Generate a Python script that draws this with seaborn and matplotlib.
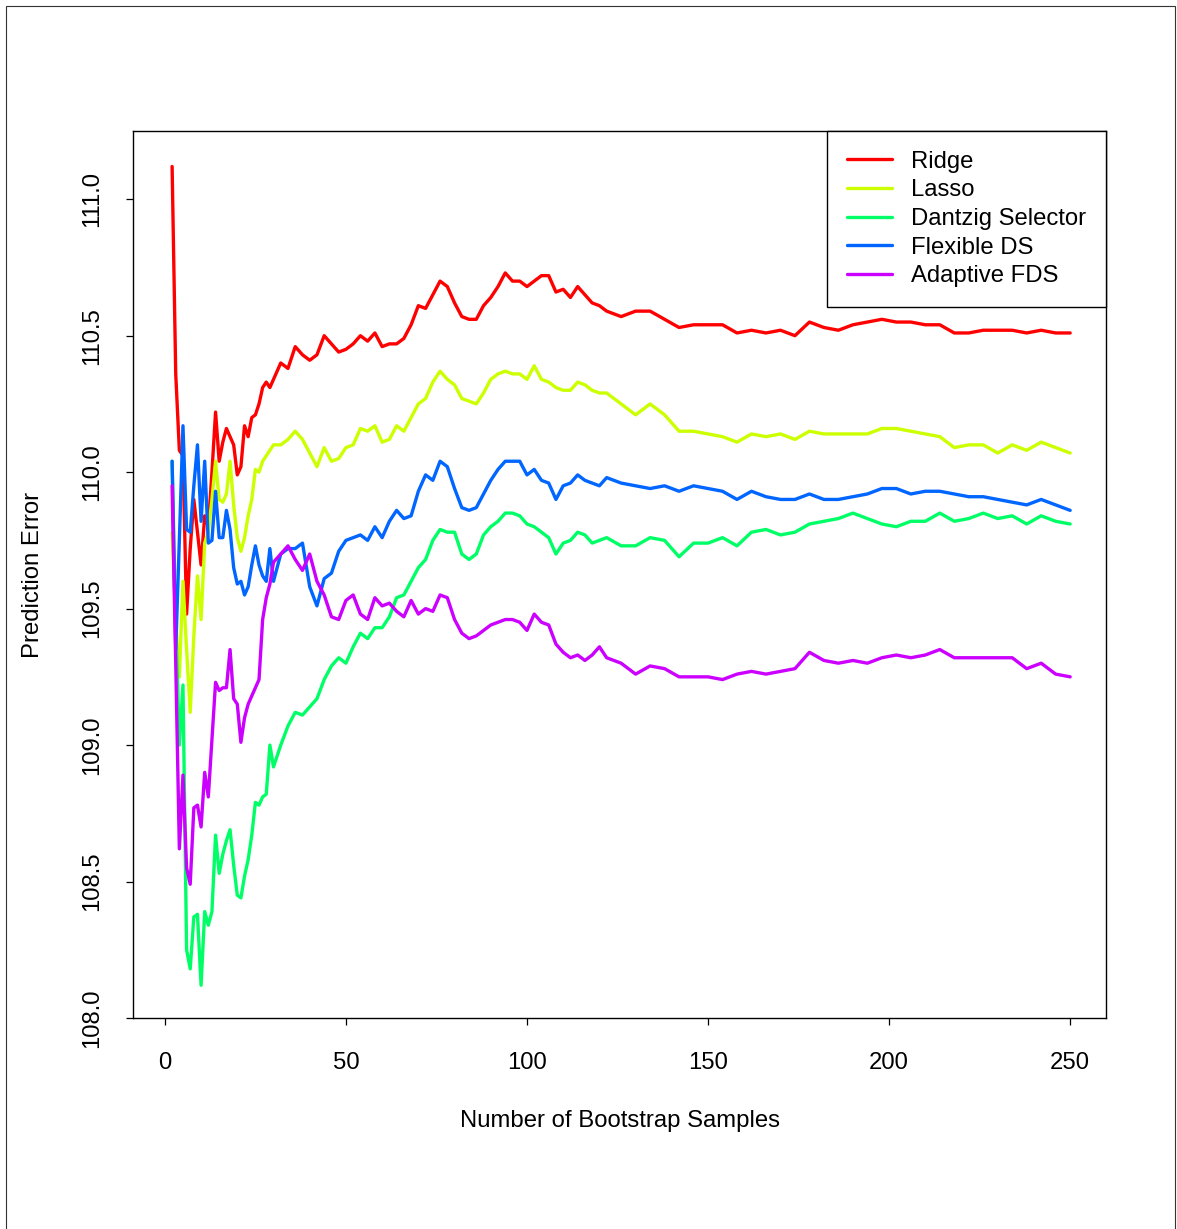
import matplotlib
matplotlib.use("Agg")
import matplotlib.pyplot as plt
import pandas as pd
import seaborn as sns
from matplotlib.patches import Rectangle

n_samples = list(range(2, 31)) + list(range(32, 121, 2)) + list(range(122, 251, 4))

methods = ["Ridge", "Lasso", "Dantzig Selector", "Flexible DS", "Adaptive FDS"]
colors = ["#FF0000", "#CCFF00", "#00FF66", "#0066FF", "#CC00FF"]

# values: x = 2..30, then 32..120 (step 2), then 122..250 (step 4)
ridge = [
    111.12, 110.36, 110.08, 110.06, 109.48, 109.72, 109.90, 109.78, 109.66, 109.84,
    109.80, 110.00, 110.22, 110.04, 110.11, 110.16, 110.13, 110.10, 109.99, 110.02,
    110.17, 110.13, 110.20, 110.21, 110.25, 110.31, 110.33, 110.31, 110.34,
    110.40, 110.38, 110.46, 110.43, 110.41, 110.43, 110.50, 110.47, 110.44, 110.45,
    110.47, 110.50, 110.48, 110.51, 110.46, 110.47, 110.47, 110.49, 110.54, 110.61,
    110.60, 110.65, 110.70, 110.68, 110.62, 110.57, 110.56, 110.56, 110.61, 110.64,
    110.68, 110.73, 110.70, 110.70, 110.68, 110.70, 110.72, 110.72, 110.66, 110.67,
    110.64, 110.68, 110.65, 110.62, 110.61,
    110.59, 110.57, 110.59, 110.59, 110.56, 110.53, 110.54, 110.54, 110.54, 110.51,
    110.52, 110.51, 110.52, 110.50, 110.55, 110.53, 110.52, 110.54, 110.55, 110.56,
    110.55, 110.55, 110.54, 110.54, 110.51, 110.51, 110.52, 110.52, 110.52, 110.51,
    110.52, 110.51, 110.51,
]
lasso = [
    109.78, 109.45, 109.25, 109.60, 109.35, 109.12, 109.40, 109.62, 109.46, 109.74,
    109.78, 109.90, 110.04, 109.90, 109.89, 109.92, 110.04, 109.88, 109.76, 109.71,
    109.76, 109.84, 109.90, 110.01, 110.00, 110.04, 110.06, 110.08, 110.10,
    110.10, 110.12, 110.15, 110.12, 110.07, 110.02, 110.09, 110.04, 110.05, 110.09,
    110.10, 110.16, 110.15, 110.17, 110.11, 110.12, 110.17, 110.15, 110.20, 110.25,
    110.27, 110.33, 110.37, 110.34, 110.32, 110.27, 110.26, 110.25, 110.29, 110.34,
    110.36, 110.37, 110.36, 110.36, 110.34, 110.39, 110.34, 110.33, 110.31, 110.30,
    110.30, 110.33, 110.32, 110.30, 110.29,
    110.29, 110.25, 110.21, 110.25, 110.21, 110.15, 110.15, 110.14, 110.13, 110.11,
    110.14, 110.13, 110.14, 110.12, 110.15, 110.14, 110.14, 110.14, 110.14, 110.16,
    110.16, 110.15, 110.14, 110.13, 110.09, 110.10, 110.10, 110.07, 110.10, 110.08,
    110.11, 110.09, 110.07,
]
dantzig = [
    110.04, 109.45, 109.00, 109.22, 108.25, 108.18, 108.37, 108.38, 108.12, 108.39,
    108.34, 108.39, 108.67, 108.53, 108.60, 108.65, 108.69, 108.56, 108.45, 108.44,
    108.52, 108.58, 108.67, 108.79, 108.78, 108.81, 108.82, 109.00, 108.92,
    109.00, 109.07, 109.12, 109.11, 109.14, 109.17, 109.24, 109.29, 109.32, 109.30,
    109.36, 109.41, 109.39, 109.43, 109.43, 109.47, 109.54, 109.55, 109.60, 109.65,
    109.68, 109.75, 109.79, 109.78, 109.78, 109.70, 109.68, 109.70, 109.77, 109.80,
    109.82, 109.85, 109.85, 109.84, 109.81, 109.80, 109.78, 109.76, 109.70, 109.74,
    109.75, 109.78, 109.77, 109.74, 109.75,
    109.76, 109.73, 109.73, 109.76, 109.75, 109.69, 109.74, 109.74, 109.76, 109.73,
    109.78, 109.79, 109.77, 109.78, 109.81, 109.82, 109.83, 109.85, 109.83, 109.81,
    109.80, 109.82, 109.82, 109.85, 109.82, 109.83, 109.85, 109.83, 109.84, 109.81,
    109.84, 109.82, 109.81,
]
flexible_ds = [
    110.04, 109.35, 109.75, 110.17, 109.79, 109.78, 109.95, 110.10, 109.82, 110.04,
    109.74, 109.75, 109.93, 109.76, 109.76, 109.86, 109.79, 109.65, 109.59, 109.60,
    109.55, 109.58, 109.66, 109.73, 109.66, 109.62, 109.60, 109.72, 109.60,
    109.70, 109.72, 109.72, 109.74, 109.58, 109.51, 109.61, 109.63, 109.71, 109.75,
    109.76, 109.77, 109.75, 109.80, 109.76, 109.82, 109.86, 109.83, 109.84, 109.93,
    109.99, 109.97, 110.04, 110.02, 109.94, 109.87, 109.86, 109.87, 109.92, 109.97,
    110.01, 110.04, 110.04, 110.04, 109.99, 110.01, 109.97, 109.96, 109.90, 109.95,
    109.96, 109.99, 109.97, 109.96, 109.95,
    109.98, 109.96, 109.95, 109.94, 109.95, 109.93, 109.95, 109.94, 109.93, 109.90,
    109.93, 109.91, 109.90, 109.90, 109.92, 109.90, 109.90, 109.91, 109.92, 109.94,
    109.94, 109.92, 109.93, 109.93, 109.92, 109.91, 109.91, 109.90, 109.89, 109.88,
    109.90, 109.88, 109.86,
]
adaptive_fds = [
    109.95, 109.30, 108.62, 108.89, 108.55, 108.49, 108.77, 108.78, 108.70, 108.90,
    108.81, 109.02, 109.23, 109.20, 109.21, 109.21, 109.35, 109.17, 109.15, 109.01,
    109.10, 109.15, 109.18, 109.21, 109.24, 109.46, 109.54, 109.59, 109.67,
    109.70, 109.73, 109.68, 109.64, 109.70, 109.60, 109.55, 109.47, 109.46, 109.53,
    109.55, 109.48, 109.46, 109.54, 109.51, 109.52, 109.49, 109.47, 109.53, 109.48,
    109.50, 109.49, 109.55, 109.54, 109.46, 109.41, 109.39, 109.40, 109.42, 109.44,
    109.45, 109.46, 109.46, 109.45, 109.42, 109.48, 109.45, 109.44, 109.37, 109.34,
    109.32, 109.33, 109.31, 109.33, 109.36,
    109.32, 109.30, 109.26, 109.29, 109.28, 109.25, 109.25, 109.25, 109.24, 109.26,
    109.27, 109.26, 109.27, 109.28, 109.34, 109.31, 109.30, 109.31, 109.30, 109.32,
    109.33, 109.32, 109.33, 109.35, 109.32, 109.32, 109.32, 109.32, 109.32, 109.28,
    109.30, 109.26, 109.25,
]

series = [ridge, lasso, dantzig, flexible_ds, adaptive_fds]
df = pd.concat(
    [pd.DataFrame({"n": n_samples, "error": vals, "method": name})
     for name, vals in zip(methods, series)],
    ignore_index=True,
)

sns.set_style("ticks")
plt.rcParams["font.family"] = ["Liberation Sans", "DejaVu Sans"]
plt.rcParams["text.color"] = "black"
plt.rcParams["axes.labelcolor"] = "black"

FS = 17.2

fig = plt.figure(figsize=(11.77, 12.29), dpi=100)
ax = fig.add_axes([133 / 1177, 1 - 1018 / 1229, 973 / 1177, 887 / 1229])

sns.lineplot(data=df, x="n", y="error", hue="method", hue_order=methods,
             palette=colors, linewidth=2.4, estimator=None, sort=False, ax=ax)

ax.set_xlim(-8.8, 259.9)
ax.set_ylim(108.0, 111.25)
ax.set_xticks([0, 50, 100, 150, 200, 250])
ax.set_yticks([108.0, 108.5, 109.0, 109.5, 110.0, 110.5, 111.0])
ax.set_yticklabels([f"{v:.1f}" for v in ax.get_yticks()], rotation=90, va="center")

for side in ["left", "right", "top", "bottom"]:
    ax.spines[side].set_visible(True)
    ax.spines[side].set_color("black")
    ax.spines[side].set_linewidth(1.0)

ax.tick_params(axis="both", direction="out", length=5.2, width=0.9,
               colors="black", labelsize=FS)
ax.tick_params(axis="x", pad=19.5)
ax.tick_params(axis="y", pad=16)

ax.set_xlabel("Number of Bootstrap Samples", fontsize=FS, color="black")
ax.set_ylabel("Prediction Error", fontsize=FS, color="black")
ax.xaxis.set_label_coords(0.5, (1018 - 1121) / 887)
ax.yaxis.set_label_coords((33 - 133) / 973, 0.5)
ax.xaxis.label.set_va("center")
ax.yaxis.label.set_va("center")

handles, labels = ax.get_legend_handles_labels()
leg = ax.legend(handles, labels, loc="upper right", frameon=True, fancybox=False,
                edgecolor="black", framealpha=1, borderaxespad=0, fontsize=FS,
                handlelength=1.9, handletextpad=0.8, labelspacing=0.28,
                borderpad=0.82)
leg.get_frame().set_linewidth(1.0)
for t in leg.get_texts():
    t.set_color("black")

# thin page frame around the whole figure
fig.add_artist(Rectangle((6 / 1177, -0.01), 1169 / 1177, 1 - 6 / 1229 + 0.01,
                         transform=fig.transFigure, fill=False,
                         edgecolor="#333333", linewidth=0.8))

fig.savefig("out.png", dpi=100, facecolor="white")
